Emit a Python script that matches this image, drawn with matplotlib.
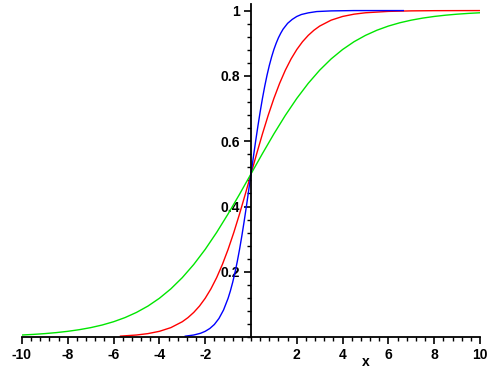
import matplotlib
matplotlib.use("Agg")
import matplotlib.pyplot as plt
from matplotlib.ticker import MultipleLocator, FixedLocator

# Values (three S-shaped curves)
blue_x = [-2.87, -2.5, -2.2, -2.0, -1.8, -1.6, -1.4, -1.2, -1.0, -0.9, -0.8, -0.7, -0.6, -0.5, -0.4, -0.3, -0.2, -0.1,
          0.0, 0.1, 0.2, 0.3, 0.4, 0.5, 0.6, 0.7, 0.8, 0.9, 1.0, 1.1, 1.2, 1.3, 1.4, 1.6, 1.8, 2.0, 2.2, 2.5, 2.87,
          3.5, 4.5, 5.5, 6.65]
blue_y = [0.0032, 0.0067, 0.0121, 0.018, 0.0266, 0.039, 0.0573, 0.0832, 0.1192, 0.1419, 0.168, 0.1978, 0.2315,
          0.2689, 0.31, 0.3543, 0.401, 0.4502,
          0.5, 0.5498, 0.599, 0.6457, 0.69, 0.7311, 0.7685, 0.8022, 0.832, 0.8581, 0.881, 0.9002, 0.917, 0.9309,
          0.943, 0.961, 0.973, 0.982, 0.988, 0.993, 0.997, 0.999, 1.0, 1.0, 1.0]

red_x = [-5.7, -5.0, -4.5, -4.0, -3.5, -3.0, -2.75, -2.5, -2.25, -2.0, -1.75, -1.5, -1.25, -1.0, -0.75, -0.5, -0.25,
         0.0, 0.25, 0.5, 0.75, 1.0, 1.25, 1.5, 1.75, 2.0, 2.25, 2.5, 2.75, 3.0, 3.5, 4.0, 4.5, 5.0, 6.0, 7.0, 8.0, 10.0]
red_y = [0.0033, 0.0067, 0.011, 0.018, 0.0293, 0.0474, 0.0601, 0.0759, 0.0953, 0.1192, 0.148, 0.1824, 0.2227,
         0.2689, 0.3208, 0.3775, 0.4378,
         0.5, 0.5622, 0.6225, 0.6792, 0.7311, 0.7773, 0.8176, 0.852, 0.8808, 0.9047, 0.9241, 0.9399, 0.9526,
         0.9707, 0.982, 0.989, 0.9933, 0.9975, 0.9991, 0.9997, 1.0]

green_x = [-10, -9.5, -9, -8.5, -8, -7.5, -7, -6.5, -6, -5.5, -5, -4.5, -4, -3.5, -3, -2.5, -2, -1.5, -1, -0.5,
           0, 0.5, 1, 1.5, 2, 2.5, 3, 3.5, 4, 4.5, 5, 5.5, 6, 6.5, 7, 7.5, 8, 8.5, 9, 9.5, 10]
green_y = [0.0067, 0.0086, 0.011, 0.0141, 0.018, 0.023, 0.0293, 0.0373, 0.0474, 0.0601, 0.0759, 0.0953,
           0.1192, 0.148, 0.1824, 0.2227, 0.2689, 0.3208, 0.3775, 0.4378,
           0.5, 0.5622, 0.6225, 0.6792, 0.7311, 0.7773, 0.8176, 0.852, 0.8808, 0.9047, 0.9241, 0.9399,
           0.9526, 0.9627, 0.9707, 0.977, 0.982, 0.9859, 0.989, 0.9914, 0.9933]

x_ticks = [-10, -8, -6, -4, -2, 2, 4, 6, 8, 10]
x_tick_labels = ["-10", "-8", "-6", "-4", "-2", "2", "4", "6", "8", "10"]
y_ticks = [0.2, 0.4, 0.6, 0.8, 1.0]
y_tick_labels = ["0.2", "0.4", "0.6", "0.8", "1"]

plt.rcParams['font.family'] = ['Liberation Sans', 'DejaVu Sans']

fig = plt.figure(figsize=(5.0, 3.71), dpi=100)
ax = fig.add_axes([0.044, 0.0911, 0.916, 0.898])

ax.plot(red_x, red_y, color='#ff0000', lw=1.0)
ax.plot(green_x, green_y, color='#00e600', lw=1.0)
ax.plot(blue_x, blue_y, color='#0000ff', lw=1.0)

ax.set_xlim(-10, 10)
ax.set_ylim(0, 1.02)

for s in ['top', 'right']:
    ax.spines[s].set_visible(False)
ax.spines['left'].set_position(('data', 0))
ax.spines['bottom'].set_position(('data', 0))
ax.spines['left'].set_linewidth(1.3)
ax.spines['bottom'].set_linewidth(1.3)

ax.xaxis.set_major_locator(FixedLocator(x_ticks))
ax.set_xticklabels(x_tick_labels)
ax.xaxis.set_minor_locator(MultipleLocator(0.4))
ax.yaxis.set_major_locator(FixedLocator(y_ticks))
ax.set_yticklabels(y_tick_labels)
ax.yaxis.set_minor_locator(MultipleLocator(0.04))

ax.tick_params(axis='both', which='major', direction='out', length=5, width=1.2,
               labelsize=10, pad=3)
ax.tick_params(axis='both', which='minor', direction='out', length=3, width=1.0)
for lab in ax.get_xticklabels() + ax.get_yticklabels():
    lab.set_fontweight('bold')

ax.set_xlabel('x', fontsize=10, fontweight='bold', va='center')
ax.xaxis.set_label_coords(0.751, -0.074)

fig.savefig('out.png', dpi=100)
